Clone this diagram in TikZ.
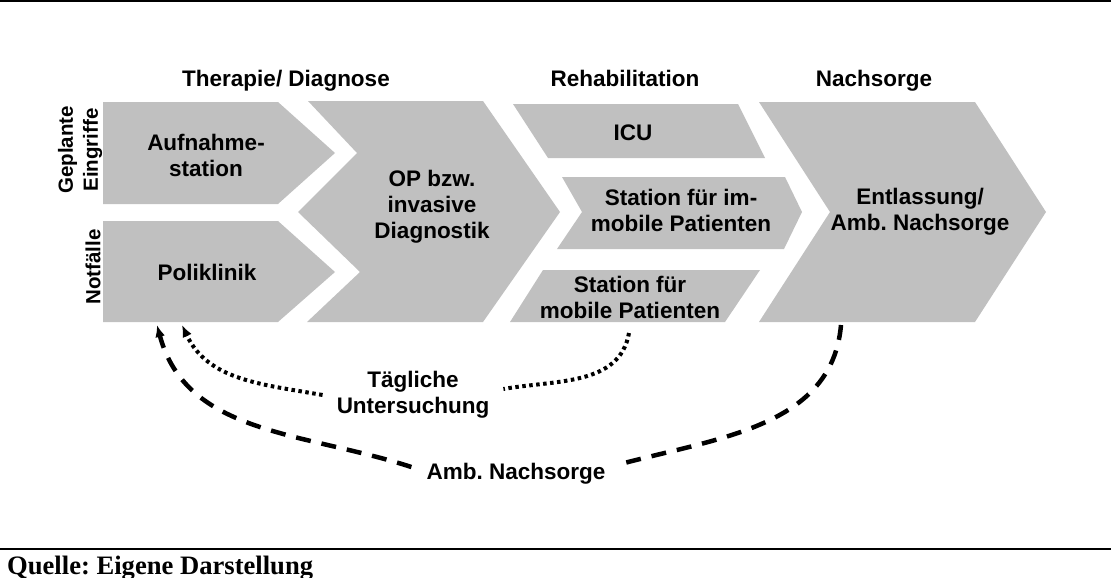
\documentclass[tikz,border=0pt]{standalone}
\usepackage{fontspec}
\setmainfont{Liberation Sans}
\newfontfamily\quellefont{Liberation Serif}
\usetikzlibrary{arrows.meta}
\definecolor{boxgray}{RGB}{192,192,192}
\frenchspacing
\tikzset{
  txt/.style={font=\bfseries\fontsize{22.5}{26}\selectfont, align=center, inner sep=0pt},
  kopf/.style={txt, anchor=base},
  seite/.style={txt, rotate=90, font=\bfseries\fontsize{20.5}{25}\selectfont},
  dots/.style={line width=4pt, dash pattern=on 3.5pt off 3.5pt},
  dashes/.style={line width=4.5pt, dash pattern=on 15pt off 11pt},
  pfeil/.style={-{Latex[length=12pt,width=10pt]}}
}
\begin{document}
\begin{tikzpicture}[x=1pt,y=-1pt]
        \useasboundingbox (0,0) rectangle (1111,578);

        \draw[line width=2.5pt] (0,1) -- (1111,1);
        \draw[line width=2.5pt] (0,549) -- (1111,549);

        \fill[boxgray] (103,102) -- (278,102) -- (335,153) -- (278,204) -- (103,204) -- cycle;
        \fill[boxgray] (103,221) -- (278,221) -- (335,272) -- (278,322) -- (103,322) -- cycle;
        \fill[boxgray] (308,101) -- (483,101) -- (560,212) -- (483,322) -- (307,322) -- (360,272) -- (298,212) -- (357,153) -- cycle;
        \fill[boxgray] (513,104) -- (738,104) -- (765,158) -- (548,158) -- cycle;
        \fill[boxgray] (562,177) -- (785,177) -- (802,212) -- (784,249) -- (557,249) -- (582,212) -- cycle;
        \fill[boxgray] (543,270) -- (760,270) -- (725,322) -- (510,322) -- cycle;
        \fill[boxgray] (759,102) -- (975,102) -- (1046,212) -- (975,322) -- (759,322) -- (830,212) -- cycle;

        \node[kopf] (th) at (286,86) {Therapie/ Diagnose};
        \node[kopf] (reha) at (625,86) {Rehabilitation};
        \node[kopf] (nach) at (874,86) {Nachsorge};

        \node[seite] (geplant) at (80,150) {Geplante\\Eingriffe};
        \node[seite] (notf) at (93,267) {Notfälle};

        \node[txt] (aufnahme) at (206,155) {Aufnahme-\\station};
        \node[txt] (poli) at (207,272) {Poliklinik};
        \node[txt] (op) at (432,207) {OP bzw.\\invasive\\Diagnostik};
        \node[txt] (icu) at (633,133) {ICU};
        \node[txt] (immobil) at (681,210) {Station für im-\\mobile Patienten};
        \node[txt] (mobil) at (630,297) {Station für\\mobile Patienten};
        \node[txt] (entl) at (920,212) {Entlassung/\\Amb. Nachsorge};

        \node[txt, inner xsep=14pt] (tu) at (413,395) {Tägliche\\Untersuchung};
        \node[txt, inner xsep=15pt] (an) at (516,474) {Amb. Nachsorge};

        \coordinate (mobil-s) at (629,333);
        \coordinate (entl-s) at (841,325);
        \coordinate (poli-a) at (182,325);
        \coordinate (poli-b) at (157,325);

        \draw[dots] (mobil-s) to[out=-100,in=10] ([yshift=6pt]tu.east);
        \draw[dots, pfeil] (tu.west) to[out=170,in=-65] (poli-a);
        \draw[dashes] (entl-s) to[out=-95,in=15] ([yshift=10pt]an.east);
        \draw[dashes, pfeil] ([yshift=7pt]an.west) to[out=162,in=-75] (poli-b);

        \node[anchor=base west, inner sep=0pt, font=\quellefont\bfseries\fontsize{26.6}{30}\selectfont] (quelle) at (7,574) {Quelle: Eigene Darstellung};
\end{tikzpicture}
\end{document}
